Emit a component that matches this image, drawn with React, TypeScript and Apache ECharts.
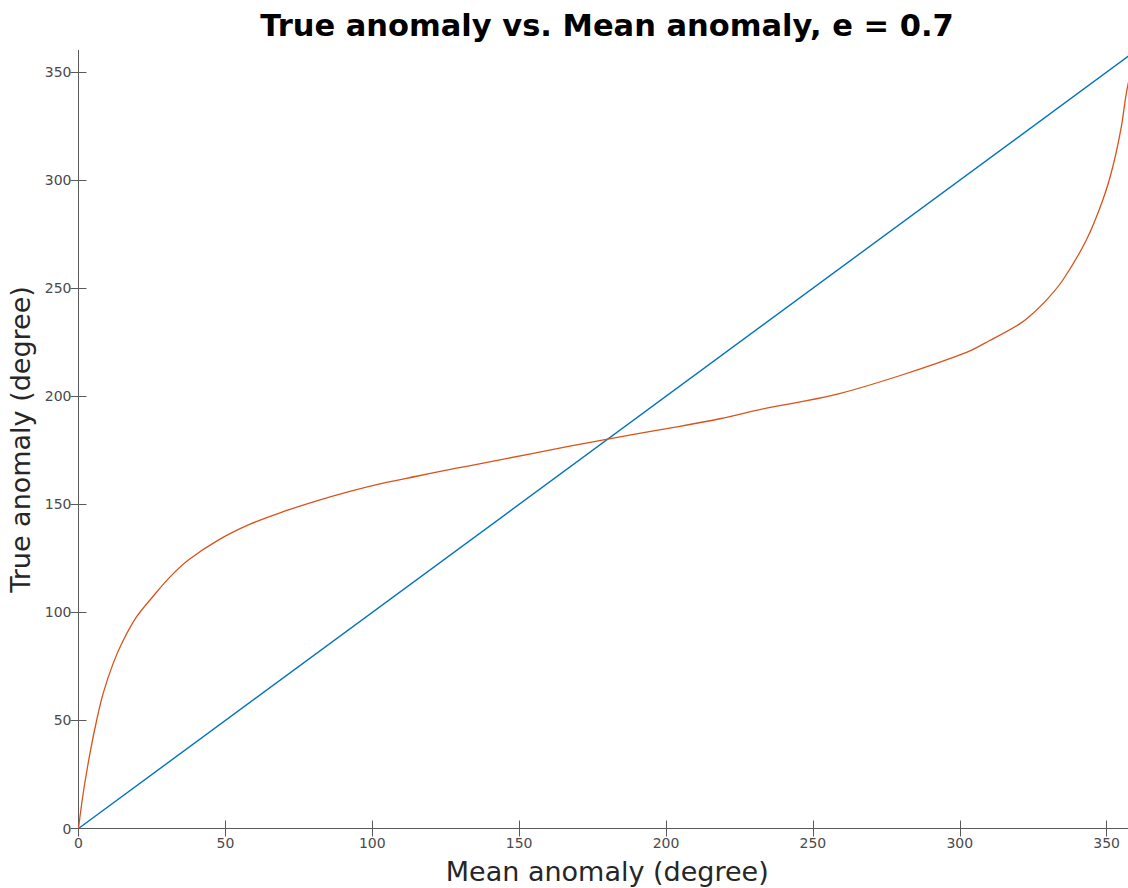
import React, { useEffect, useRef } from "react";
import * as echarts from "echarts";

const titleText = "True anomaly vs. Mean anomaly, e = 0.7";
const xName = "Mean anomaly (degree)";
const yName = "True anomaly (degree)";
const tickValues = [0, 50, 100, 150, 200, 250, 300, 350];

const lineM = [0, 360];
const lineNu = [0, 360];

const meanAnomaly = [
  0, 1.6, 3.9, 6.2, 8.4, 11.8, 15.3, 19.8, 25.5, 31.1, 37.4, 47.0, 58.4, 69.7,
  81.1, 92.4, 103.7, 115.1, 125.3, 132.1, 154.8, 179.7, 200.2, 218.3, 234.2,
  256.9, 279.5, 302.3, 310.2, 320.4, 323.8, 329.5, 335.1, 343.1, 348.7, 352.1,
  355.0, 356.9, 360,
];
const trueAnomaly = [
  0, 16.3, 34.8, 50.2, 62.5, 76.4, 87.2, 98.0, 107.6, 116.3, 124.2, 133.0,
  140.8, 146.6, 151.6, 156.0, 159.8, 163.0, 165.8, 167.6, 173.6, 180.1, 185.0,
  189.6, 194.5, 200.5, 209.5, 220.3, 225.8, 233.5, 237.0, 244.5, 253.8, 272.3,
  290.8, 306.2, 324.7, 341.7, 360,
];

const axisColor = "#5a5a5a";
const labelColor = "#4a4a4a";
const font = "'DejaVu Sans', sans-serif";

export default function App() {
  const ref = useRef<HTMLDivElement>(null);
  useEffect(() => {
    if (!ref.current) return;
    const chart = echarts.init(ref.current, undefined, { renderer: "svg" });
    const baseAxis = {
      min: 0,
      max: 360,
      interval: 50,
      axisLine: { show: true, lineStyle: { color: axisColor, width: 1 } },
      axisTick: {
        show: true,
        inside: true,
        length: 8,
        customValues: tickValues,
        lineStyle: { color: axisColor },
      },
      splitLine: { show: false },
    };
    const labelStyle = {
      customValues: tickValues,
      color: labelColor,
      fontFamily: font,
      fontSize: 14,
      margin: 7,
    };
    chart.setOption({
      animation: false,
      backgroundColor: "#ffffff",
      graphic: [
        {
          type: "text",
          x: 607,
          y: 25,
          style: {
            text: titleText,
            fontFamily: font,
            fontWeight: "bold",
            fontSize: 30.5,
            fill: "#000000",
            textAlign: "center",
            textVerticalAlign: "middle",
          },
        },
      ],
      grid: { left: 78.5, top: 50.5, right: 14, bottom: 59.5, outerBoundsMode: "none", containLabel: false },
      xAxis: [
        {
          ...baseAxis,
          type: "value",
          position: "bottom",
          name: xName,
          nameLocation: "middle",
          nameGap: 29,
          nameTextStyle: { fontFamily: font, fontSize: 27, color: "#262626" },
          axisLabel: labelStyle,
        },
        {
          ...baseAxis,
          type: "value",
          position: "top",
          axisLabel: { show: false },
        },
      ],
      yAxis: [
        {
          ...baseAxis,
          type: "value",
          position: "left",
          name: yName,
          nameLocation: "middle",
          nameGap: 39,
          nameTextStyle: { fontFamily: font, fontSize: 27, color: "#262626" },
          axisLabel: labelStyle,
        },
        {
          ...baseAxis,
          type: "value",
          position: "right",
          axisLabel: { show: false },
        },
      ],
      series: [
        {
          type: "line",
          name: "Mean",
          xAxisIndex: 0,
          yAxisIndex: 0,
          data: lineM.map((m, i) => [m, lineNu[i]]),
          showSymbol: false,
          lineStyle: { color: "#0072BD", width: 1.4 },
        },
        {
          type: "line",
          name: "True",
          xAxisIndex: 0,
          yAxisIndex: 0,
          data: meanAnomaly.map((m, i) => [m, trueAnomaly[i]]),
          showSymbol: false,
          smooth: 0.35,
          lineStyle: { color: "#D95319", width: 1.3 },
        },
      ],
    });
    return () => chart.dispose();
  }, []);
  return (
    <div
      style={{
        position: "fixed",
        left: 0,
        top: 0,
        width: 1128,
        height: 888,
        overflow: "hidden",
        background: "#fff",
      }}
    >
      <div ref={ref} style={{ width: 1150, height: 888 }} />
    </div>
  );
}
